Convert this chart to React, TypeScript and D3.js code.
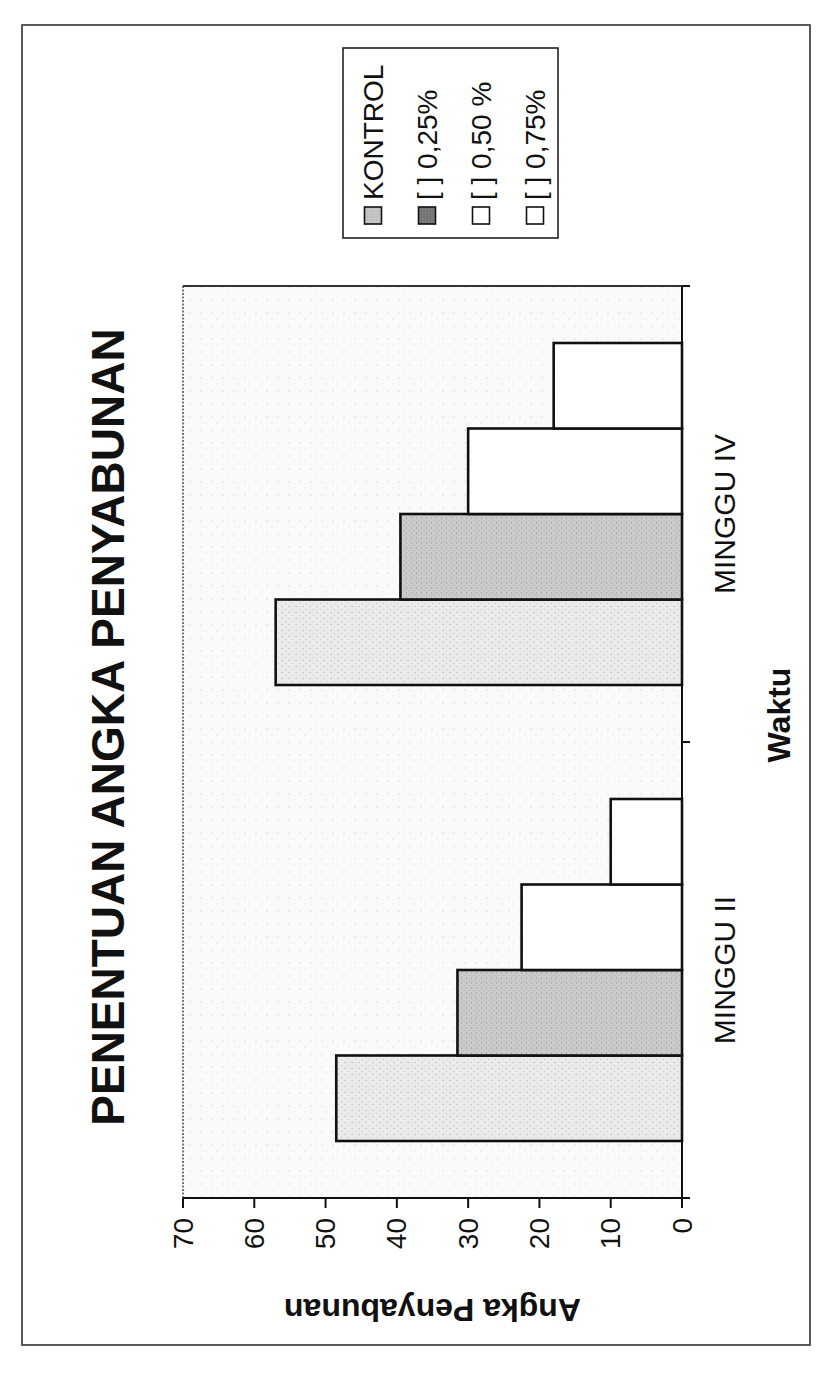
import React from "react";
import * as d3 from "d3";

// Saponification number per week and concentration
const categories = ["MINGGU II", "MINGGU IV"];
const seriesNames = ["KONTROL", "[ ] 0,25%", "[ ] 0,50 %", "[ ] 0,75%"];
const kontrolValues = [48.5, 57];
const conc025Values = [31.5, 39.5];
const conc050Values = [22.5, 30];
const conc075Values = [10, 18];
const valueTicks = [0, 10, 20, 30, 40, 50, 60, 70];

const seriesValues = [kontrolValues, conc025Values, conc050Values, conc075Values];
const seriesFills = ["url(#fillKontrol)", "url(#fill025)", "#ffffff", "#ffffff"];
const swatchFills = ["url(#swatchKontrol)", "url(#swatch025)", "#ffffff", "#ffffff"];

const PAGE_W = 822;
const PAGE_H = 1394;
// The chart is laid out landscape and then turned a quarter turn
// counter-clockwise onto the portrait page.

const plot = { left: 196, right: 1108, top: 183, bottom: 682 };
const FONT = "'Liberation Sans', Arial, Helvetica, sans-serif";

export default function App() {
  const x0 = d3
    .scaleBand<string>()
    .domain(categories)
    .range([plot.left, plot.right])
    .paddingInner(0.25)
    .paddingOuter(0.125);
  const x1 = d3.scaleBand<string>().domain(seriesNames).range([0, x0.bandwidth()]);
  const y = d3.scaleLinear().domain([0, 70]).range([plot.bottom, plot.top]);

  const step = x0.step();
  const boundaries = [plot.left, ...categories.map((c) => x0(c)! - (step * 0.25) / 2 + step)];

  const legend = { x: 1156, y: 343, w: 190, h: 215, row0: 373, rowStep: 54 };

  return (
    <svg
      width={PAGE_W}
      height={PAGE_H}
      viewBox={`0 0 ${PAGE_W} ${PAGE_H}`}
      style={{ position: "absolute", left: 0, top: 0, background: "#fff" }}
      fontFamily={FONT}
    >
      <defs>
        <pattern id="fillPlot" width="13" height="11" patternUnits="userSpaceOnUse">
          <rect width="13" height="11" fill="#fafafa" />
          <circle cx="2" cy="3" r="0.7" fill="#d2d2d2" />
          <circle cx="9" cy="8" r="0.6" fill="#dedede" />
        </pattern>
        <pattern id="fillKontrol" width="6" height="7" patternUnits="userSpaceOnUse">
          <rect width="6" height="7" fill="#ebebeb" />
          <circle cx="1.5" cy="2" r="0.6" fill="#9c9c9c" />
          <circle cx="4.5" cy="5.5" r="0.5" fill="#b8b8b8" />
        </pattern>
        <pattern id="fill025" width="5" height="5" patternUnits="userSpaceOnUse">
          <rect width="5" height="5" fill="#cbcbcb" />
          <circle cx="1" cy="1.5" r="0.6" fill="#858585" />
          <circle cx="3.5" cy="4" r="0.5" fill="#a0a0a0" />
        </pattern>
        <pattern id="swatchKontrol" width="3" height="3" patternUnits="userSpaceOnUse">
          <rect width="3" height="3" fill="#c8c8c8" />
          <circle cx="1" cy="1" r="0.5" fill="#909090" />
        </pattern>
        <pattern id="swatch025" width="3" height="3" patternUnits="userSpaceOnUse">
          <rect width="3" height="3" fill="#7c7c7c" />
          <circle cx="1" cy="1" r="0.5" fill="#444" />
        </pattern>
      </defs>

      <g transform={`translate(0,${PAGE_H}) rotate(-90)`}>
        {/* outer chart frame */}
        <rect x={49} y={22} width={1320} height={788} fill="#fff" stroke="#333" strokeWidth={1.6} />

        {/* title */}
        <text x={667} y={124} textAnchor="middle" fontSize={46} fontWeight="bold" fill="#111">
          PENENTUAN ANGKA PENYABUNAN
        </text>

        {/* plot area */}
        <rect
          x={plot.left}
          y={plot.top}
          width={plot.right - plot.left}
          height={plot.bottom - plot.top}
          fill="url(#fillPlot)"
        />
        <line x1={plot.left} x2={plot.right} y1={plot.top} y2={plot.top} stroke="#777" strokeWidth={2} strokeDasharray="2 1.5" />
        <line x1={plot.right} x2={plot.right} y1={plot.top} y2={plot.bottom} stroke="#333" strokeWidth={2.2} />

        {/* bars */}
        {categories.map((cat, ci) => (
          <g key={cat}>
            {seriesNames.map((s, si) => {
              const v = seriesValues[si][ci];
              const bx = x0(cat)! + x1(s)!;
              return (
                <rect
                  key={s}
                  x={bx}
                  y={y(v)}
                  width={x1.bandwidth()}
                  height={y(0) - y(v)}
                  fill={seriesFills[si]}
                  stroke="#111"
                  strokeWidth={2.6}
                />
              );
            })}
          </g>
        ))}

        {/* value axis */}
        <line x1={plot.left} x2={plot.left} y1={plot.top} y2={plot.bottom} stroke="#111" strokeWidth={2} />
        {valueTicks.map((t) => (
          <g key={t}>
            <line x1={plot.left - 10} x2={plot.left} y1={y(t)} y2={y(t)} stroke="#111" strokeWidth={2} />
            <text
              x={plot.left - 20}
              y={y(t)}
              textAnchor="end"
              dominantBaseline="central"
              fontSize={28}
              fill="#111"
            >
              {t}
            </text>
          </g>
        ))}
        <text
          transform={`translate(84,${(plot.top + plot.bottom) / 2}) rotate(-90)`}
          textAnchor="middle"
          dominantBaseline="central"
          fontSize={32}
          fontWeight="bold"
          fill="#111"
        >
          Angka Penyabunan
        </text>

        {/* category axis */}
        <line x1={plot.left} x2={plot.right} y1={plot.bottom} y2={plot.bottom} stroke="#111" strokeWidth={2} />
        {boundaries.map((b, i) => (
          <line key={i} x1={b} x2={b} y1={plot.bottom} y2={plot.bottom + 8} stroke="#111" strokeWidth={2} />
        ))}
        {categories.map((cat) => (
          <text
            key={cat}
            x={x0(cat)! + x0.bandwidth() / 2}
            y={735}
            textAnchor="middle"
            fontSize={30}
            fill="#111"
          >
            {cat}
          </text>
        ))}
        <text x={679} y={790} textAnchor="middle" fontSize={32} fontWeight="bold" fill="#111">
          Waktu
        </text>

        {/* legend */}
        <rect x={legend.x} y={legend.y} width={legend.w} height={legend.h} fill="#fff" stroke="#222" strokeWidth={1.6} />
        {seriesNames.map((s, i) => {
          const cy = legend.row0 + i * legend.rowStep;
          return (
            <g key={s}>
              <rect x={1170} y={cy - 8.5} width={17} height={17} fill={swatchFills[i]} stroke="#111" strokeWidth={1.6} />
              <text x={1194} y={cy} dominantBaseline="central" fontSize={28} fill="#111">
                {s}
              </text>
            </g>
          );
        })}
      </g>
    </svg>
  );
}
